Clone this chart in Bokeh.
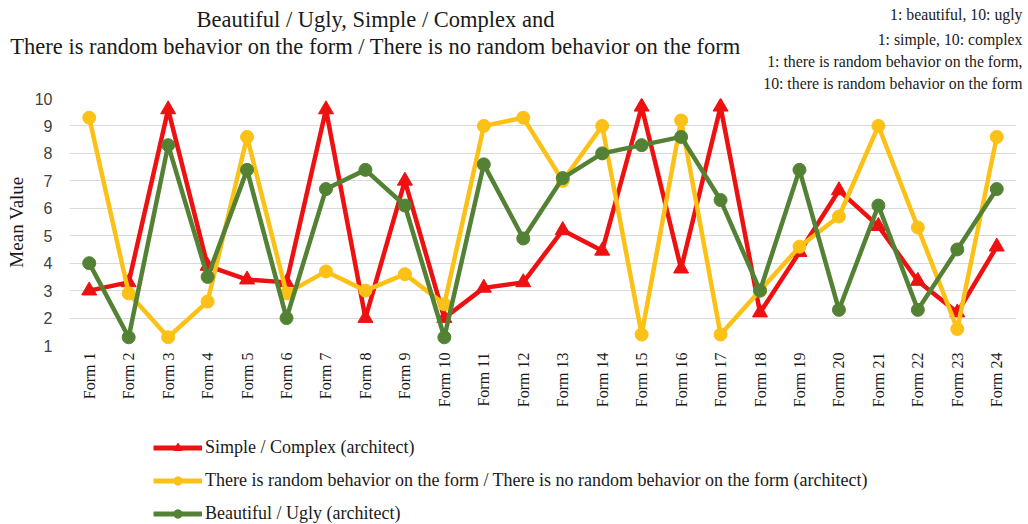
import math
from bokeh.plotting import figure
from bokeh.layouts import column, row
from bokeh.models import Range1d, FactorRange, FixedTicker, Label, Legend, LegendItem
from bokeh.embed import file_html
from bokeh.resources import INLINE

forms = ["Form 1", "Form 2", "Form 3", "Form 4", "Form 5", "Form 6", "Form 7", "Form 8",
         "Form 9", "Form 10", "Form 11", "Form 12", "Form 13", "Form 14", "Form 15", "Form 16",
         "Form 17", "Form 18", "Form 19", "Form 20", "Form 21", "Form 22", "Form 23", "Form 24"]

simple_complex = [3.0, 3.3, 9.6, 3.9, 3.4, 3.3, 9.6, 2.0, 7.0, 2.0, 3.1, 3.3,
                  5.2, 4.45, 9.7, 3.8, 9.7, 2.2, 4.4, 6.65, 5.35, 3.35, 2.2, 4.6]
random_behavior = [9.3, 2.9, 1.3, 2.6, 8.6, 2.9, 3.7, 3.0, 3.6, 2.5, 9.0, 9.3,
                   7.0, 9.0, 1.4, 9.2, 1.4, 3.0, 4.6, 5.7, 9.0, 5.3, 1.6, 8.6]
beautiful_ugly = [4.0, 1.3, 8.3, 3.5, 7.4, 2.0, 6.7, 7.4, 6.1, 1.3, 7.6, 4.9,
                  7.1, 8.0, 8.3, 8.6, 6.3, 3.0, 7.4, 2.3, 6.1, 2.3, 4.5, 6.7]

y_ticks = [1, 2, 3, 4, 5, 6, 7, 8, 9, 10]
y_title = "Mean Value"
title_lines = ["Beautiful / Ugly, Simple / Complex and",
               "There is random behavior on the form / There is no random behavior on the form"]
note_lines = ["1: beautiful, 10: ugly",
              "1: simple, 10: complex",
              "1: there is random behavior on the form,",
              "10: there is random behavior on the form"]
series_labels = ["Simple / Complex (architect)",
                 "There is random behavior on the form / There is no random behavior on the form (architect)",
                 "Beautiful / Ugly (architect)"]

RED = "#EE1111"
YELLOW = "#FBC116"
GREEN = "#548235"
SERIF = "Liberation Serif"
TXT = "#1a1a1a"
W = 1028


def strip(f):
    f.outline_line_color = None
    f.grid.visible = False
    return f


# ---------- header: title + scale notes ----------
head = strip(figure(width=W, height=92, x_range=Range1d(0, 1), y_range=Range1d(0, 1),
                    output_backend="svg", toolbar_location=None, title=None,
                    x_axis_location=None, y_axis_location=None, min_border=0))
for txt, yy in zip(title_lines, [73, 46]):
    head.add_layout(Label(x=375, y=yy, x_units="screen", y_units="screen", text=txt,
                          text_align="center", text_baseline="middle", text_font=SERIF,
                          text_font_size="22.5px", text_color=TXT))
for txt, yy in zip(note_lines, [78, 53, 31, 9.5]):
    head.add_layout(Label(x=1022, y=yy, x_units="screen", y_units="screen", text=txt,
                          text_align="right", text_baseline="middle", text_font=SERIF,
                          text_font_size="15.8px", text_color=TXT))

# ---------- main chart ----------
p = figure(width=W, height=328, x_range=FactorRange(*forms), y_range=Range1d(1, 10),
           output_backend="svg", toolbar_location=None, title=None,
           min_border_left=69, min_border_right=12, min_border_top=6, min_border_bottom=75)

p.line(forms, simple_complex, line_width=4.5, color=RED)
p.scatter(forms, simple_complex, marker="triangle", size=15, color=RED)
p.line(forms, random_behavior, line_width=4.5, color=YELLOW)
p.scatter(forms, random_behavior, marker="circle", size=13, color=YELLOW)
p.line(forms, beautiful_ugly, line_width=4.5, color=GREEN)
p.scatter(forms, beautiful_ugly, marker="circle", size=13, color=GREEN)

p.outline_line_color = None
p.xgrid.grid_line_color = None
p.ygrid.grid_line_color = "#D9D9D9"
p.ygrid.grid_line_width = 1
p.axis.axis_line_color = None
p.axis.major_tick_line_color = None
p.axis.minor_tick_line_color = None
p.axis.major_tick_out = 0
p.axis.major_tick_in = 0
p.axis.minor_tick_out = 0

p.yaxis.ticker = FixedTicker(ticks=y_ticks)
p.yaxis.major_label_text_font = "Liberation Sans"
p.yaxis.major_label_text_font_size = "16px"
p.yaxis.major_label_text_color = "#404040"
p.yaxis.major_label_standoff = 17
p.yaxis.axis_label = y_title
p.yaxis.axis_label_text_font = SERIF
p.yaxis.axis_label_text_font_size = "19px"
p.yaxis.axis_label_text_font_style = "normal"
p.yaxis.axis_label_text_color = TXT
p.yaxis.axis_label_standoff = 5

p.xaxis.major_label_orientation = math.pi / 2
p.xaxis.major_label_text_font = SERIF
p.xaxis.major_label_text_font_size = "16px"
p.xaxis.major_label_text_color = TXT
p.xaxis.major_label_standoff = 7

# ---------- footer: legend (series drawn out of view, only their legend glyphs show) ----------
foot = strip(figure(width=W, height=104, x_range=FactorRange(*forms), y_range=Range1d(50, 51),
                    output_backend="svg", toolbar_location=None, title=None,
                    x_axis_location=None, y_axis_location=None, min_border=0))
l1 = foot.line(forms, simple_complex, line_width=5, color=RED)
m1 = foot.scatter(forms, simple_complex, marker="triangle", size=15, color=RED)
l2 = foot.line(forms, random_behavior, line_width=5, color=YELLOW)
m2 = foot.scatter(forms, random_behavior, marker="circle", size=13, color=YELLOW)
l3 = foot.line(forms, beautiful_ugly, line_width=5, color=GREEN)
m3 = foot.scatter(forms, beautiful_ugly, marker="circle", size=13, color=GREEN)
legend = Legend(items=[LegendItem(label=series_labels[0], renderers=[l1, m1]),
                       LegendItem(label=series_labels[1], renderers=[l2, m2]),
                       LegendItem(label=series_labels[2], renderers=[l3, m3])],
                location=(153, 0), orientation="vertical",
                background_fill_alpha=0, border_line_alpha=0, padding=0, margin=0,
                spacing=12, glyph_width=49, glyph_height=21, label_height=21,
                label_standoff=3, label_text_font=SERIF, label_text_font_size="18px",
                label_text_color=TXT)
foot.add_layout(legend)

layout = column(row(head), p, row(foot), spacing=0)
open("out.html", "w").write(file_html(layout, INLINE))
